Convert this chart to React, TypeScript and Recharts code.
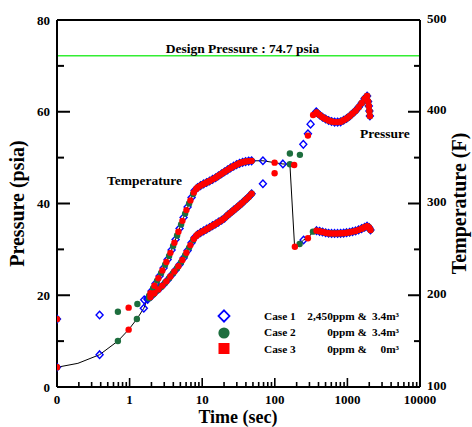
import React from "react";
import { ComposedChart, XAxis, YAxis, Scatter, Line, ReferenceLine } from "recharts";

type Pt = [number, number];

// log time axis: t = 0 is drawn at 0.1 and labelled "0"
const X_MAJOR = [0.1, 1, 10, 100, 1000, 10000];
const X_LABELS = ["0", "1", "10", "100", "1000", "10000"];
const X_MINOR_STEPS = [2, 3, 4, 5, 6, 7, 8, 9];
const P_TICKS = [0, 10, 20, 30, 40, 50, 60, 70, 80];
const P_LABELED = [0, 20, 40, 60, 80];
const T_TICKS = [100, 150, 200, 250, 300, 350, 400, 450, 500];
const T_LABELED = [100, 200, 300, 400, 500];
const DESIGN_PRESSURE = 72.2;

const CASE_NAMES = ["Case 1", "Case 2", "Case 3"];
const CASE_DESC: [string, string][] = [
  ["2,450ppm &", "3.4m³"],
  ["0ppm &", "3.4m³"],
  ["0ppm &", "0m³"],
];

// temperature (F) vs time (sec)
const CASE1_TEMP: Pt[] = [
  [0, 121.5], [0.386, 135.2], [1.57, 185.8],
  [1.77, 196.5], [2.01, 204.6], [2.28, 212.8], [2.59, 221.0], [2.94, 229.7], [3.34, 239.0],
  [3.79, 249.3], [4.3, 260.8], [4.88, 272.8], [5.54, 284.7], [6.29, 296.2], [7.14, 306.5], [7.86, 314.2],
  [68.6, 346.6], [129.3, 343.1],
  [249, 260.2],
];
const CASE2_TEMP: Pt[] = [
  [0, 121.5], [0.69, 150.1], [1.26, 174.1],
  [1.856, 199.5], [2.107, 207.7], [2.392, 215.9], [2.716, 224.3], [3.083, 233.2], [3.5, 242.9],
  [3.974, 253.6], [4.511, 265.2], [5.121, 277.2], [5.815, 289.0], [6.601, 300.1], [7.494, 310.4],
  [161.4, 342.7],
  [219.6, 255.9], [335, 269.3],
];
const CASE3_TEMP: Pt[] = [
  [0, 121.5], [0.97, 162.5],
  [1.934, 202.2], [2.196, 210.4], [2.493, 218.5], [2.83, 227.1], [3.213, 236.2], [3.648, 246.2],
  [4.141, 257.3], [4.701, 269.2], [5.338, 281.1], [6.059, 292.8], [6.879, 303.4], [7.661, 312.1], [8.27, 315.9],
  [99.4, 344.5], [185, 342.0],
  [189, 252.9], [286, 262.1],
];
// dense parts where all three cases overlap
const TEMP_BAND_RISE: Pt[] = [
  [8.65, 317.4], [9.5, 319.5], [10.45, 321.3], [11.5, 322.9], [12.65, 324.5], [13.9, 326.3],
  [15.3, 328.1], [16.8, 330.2], [18.5, 332.4], [20.35, 334.6], [22.4, 336.7], [24.6, 338.8],
  [27.1, 340.7], [29.8, 342.4], [32.75, 343.8], [36, 344.9], [39.6, 345.7], [43.6, 346.2], [47.9, 346.5],
];
const TEMP_BAND_LATE: Pt[] = [
  [376, 270.4], [414, 269.7], [455, 268.9], [501, 268.1], [551, 267.6], [606, 267.4], [666, 267.4],
  [733, 267.4], [806, 267.5], [887, 267.7], [975, 268.2], [1072, 268.7], [1179, 269.4], [1297, 270.1],
  [1427, 271.3], [1569, 272.6], [1726, 274.1], [1868, 275.3], [1990, 273.8], [2080, 271.1],
];
// thin black line through the temperature points
const TEMP_TRACE: Pt[] = [
  [0, 121.5], [0.194, 125.8], [0.386, 135.2], [0.69, 150.1], [0.97, 162.5], [1.26, 174.1], [1.57, 185.8],
  [1.77, 196.5], [2.59, 221.0], [3.79, 249.3], [5.54, 284.7], [7.14, 306.5], [7.86, 314.2],
  [9.5, 319.5], [13.9, 326.3], [20.35, 334.6], [29.8, 342.4], [39.6, 345.7], [47.9, 346.5],
  [68.6, 346.6], [99.4, 344.5], [129.3, 343.1], [161.4, 342.7], [187.4, 252.9], [219.6, 255.9],
  [249, 260.2], [286, 262.1], [335, 269.3], [376, 270.4], [666, 267.4], [1179, 269.4], [1868, 275.3], [2080, 271.1],
];

// pressure (psia) vs time (sec)
const CASE1_PRES: Pt[] = [
  [0, 14.8], [0.386, 15.7], [1.59, 19.0],
  [1.77, 19.07], [2.01, 19.84], [2.28, 20.71], [2.59, 21.51], [2.94, 22.34], [3.34, 23.32],
  [3.79, 24.41], [4.3, 25.5], [4.88, 26.7], [5.54, 28.12], [6.29, 29.73], [7.14, 31.46], [7.86, 32.59],
  [68.6, 44.3], [247, 52.9], [286, 55.2], [311, 57.3], [372, 60.0],
];
const CASE2_PRES: Pt[] = [
  [0, 14.8], [0.69, 16.4], [1.28, 18.1],
  [1.856, 19.36], [2.107, 20.16], [2.392, 21.01], [2.716, 21.82], [3.083, 22.71], [3.5, 23.74],
  [3.974, 24.83], [4.511, 25.96], [5.121, 27.23], [5.815, 28.73], [6.601, 30.39], [7.494, 32.02],
  [161.4, 50.9], [221.7, 50.6],
];
const CASE3_PRES: Pt[] = [
  [0, 14.8], [0.97, 17.3],
  [1.934, 19.61], [2.196, 20.45], [2.493, 21.28], [2.83, 22.1], [3.213, 23.03], [3.648, 24.09],
  [4.141, 25.18], [4.701, 26.34], [5.338, 27.69], [6.059, 29.25], [6.879, 30.93], [7.661, 32.28], [8.27, 32.94],
  [99.4, 46.6], [286, 54.8], [337, 59.3],
];
const PRES_BAND_RISE: Pt[] = [
  [8.65, 33.24], [9.5, 33.66], [10.45, 34.03], [11.5, 34.4], [12.65, 34.77], [13.9, 35.16],
  [15.3, 35.53], [16.8, 35.95], [18.5, 36.34], [20.35, 36.82], [22.4, 37.45], [24.6, 37.99],
  [27.1, 38.54], [29.8, 39.08], [32.75, 39.63], [36, 40.2], [39.6, 40.81], [43.6, 41.42], [47.9, 42.11],
];
const PRES_BAND_LATE: Pt[] = [
  [376, 59.84], [414, 59.29], [455, 58.81], [501, 58.42], [551, 58.09], [606, 57.87], [666, 57.74],
  [733, 57.74], [806, 57.81], [887, 58.14], [975, 58.53], [1072, 59.01], [1179, 59.62], [1297, 60.23],
  [1427, 60.97], [1569, 61.84], [1726, 62.87], [1868, 63.43], [1928, 62.23], [1972, 61.25], [2009, 60.16], [2041, 59.07],
];

const BLUE = "#0000ff";
const GREEN = "#1d6e3e";
const RED = "#ff0000";
const FONT = '"Liberation Serif", "Times New Roman", serif';

const W = 472;
const H = 427;

const rows = (...parts: Pt[][]) =>
  parts.flat().map(([t, v]) => ({ t: t === 0 ? 0.1 : t, v }));

const X_TICKS = [
  ...X_MAJOR.slice(0, -1).flatMap((d) => [d, ...X_MINOR_STEPS.map((s) => d * s)]),
  X_MAJOR[X_MAJOR.length - 1],
];

const majorIndex = (v: number) => X_MAJOR.findIndex((m) => Math.abs(v - m) / m < 1e-6);

const tickText = { fontFamily: FONT, fontWeight: "bold" as const, fontSize: 13, fill: "#000" };

const XTick = (props: any) => {
  const { x, y, payload } = props;
  const i = majorIndex(payload.value);
  return (
    <g>
      <line x1={x} x2={x} y1={y} y2={y - (i >= 0 ? 9 : 5)} stroke="#000" strokeWidth={1.6} />
      {i >= 0 && (
        <text x={x} y={y + 17} textAnchor="middle" style={tickText}>
          {X_LABELS[i]}
        </text>
      )}
    </g>
  );
};

const PTick = (props: any) => {
  const { x, y, payload } = props;
  const major = P_LABELED.includes(payload.value);
  return (
    <g>
      <line x1={x} x2={x + (major ? 13 : 7)} y1={y} y2={y} stroke="#000" strokeWidth={2} />
      {major && (
        <text x={x - 7} y={y + 4.5} textAnchor="end" style={tickText}>
          {payload.value}
        </text>
      )}
    </g>
  );
};

const TTick = (props: any) => {
  const { x, y, payload } = props;
  const major = T_LABELED.includes(payload.value);
  return (
    <g>
      <line x1={x} x2={x - (major ? 12 : 6)} y1={y} y2={y} stroke="#000" strokeWidth={2} />
      {major && (
        <text x={x + 7} y={y + 2.5} textAnchor="start" style={tickText}>
          {payload.value}
        </text>
      )}
    </g>
  );
};

const titleStyle = { fontFamily: FONT, fontWeight: "bold" as const, fontSize: 20, fill: "#000" };

const VTitle = (text: string, x: number) => () => {
  const y = 203.5;
  return (
    <text x={x} y={y} transform={`rotate(-90 ${x} ${y})`} textAnchor="middle" style={titleStyle}>
      {text}
    </text>
  );
};

const BottomTitle = () => (
  <text x={238} y={423} textAnchor="middle" style={{ ...titleStyle, fontSize: 18 }}>
    Time (sec)
  </text>
);

const Diamond = (p: any) => (
  <path
    d={`M${p.cx},${p.cy - 3.8}L${p.cx + 3.5},${p.cy}L${p.cx},${p.cy + 3.8}L${p.cx - 3.5},${p.cy}Z`}
    fill="none"
    stroke={BLUE}
    strokeWidth={1.4}
  />
);
const GreenDot = (p: any) => <circle cx={p.cx} cy={p.cy} r={3.2} fill={GREEN} />;
const RedDot = (p: any) => <circle cx={p.cx} cy={p.cy} r={3.2} fill={RED} />;

export default function App() {
  const c1t = rows(CASE1_TEMP, TEMP_BAND_RISE, TEMP_BAND_LATE);
  const c2t = rows(CASE2_TEMP, TEMP_BAND_RISE, TEMP_BAND_LATE);
  const c3t = rows(CASE3_TEMP, TEMP_BAND_RISE, TEMP_BAND_LATE);
  const c1p = rows(CASE1_PRES, PRES_BAND_RISE, PRES_BAND_LATE);
  const c2p = rows(CASE2_PRES, PRES_BAND_RISE, PRES_BAND_LATE);
  const c3p = rows(CASE3_PRES, PRES_BAND_RISE, PRES_BAND_LATE);
  const trace = rows(TEMP_TRACE);

  const txt = { fontFamily: FONT, fontWeight: "bold" as const, fill: "#000" };

  return (
    <div style={{ position: "absolute", left: 0, top: 0, width: W, height: H, background: "#fff" }}>
      <ComposedChart width={W} height={H} margin={{ top: 20, right: 0, bottom: 0, left: 0 }}>
        <XAxis
          type="number"
          dataKey="t"
          scale="log"
          domain={[0.1, 10000]}
          allowDataOverflow
          ticks={X_TICKS}
          interval={0}
          tickSize={0}
          tickMargin={0}
          tickLine={false}
          tick={(p: any) => <XTick {...p} />}
          axisLine={{ stroke: "#000", strokeWidth: 2 }}
          height={40}
          label={BottomTitle}
        />
        <YAxis
          yAxisId="P"
          type="number"
          dataKey="v"
          domain={[0, 80]}
          ticks={P_TICKS}
          interval={0}
          width={57}
          tickSize={0}
          tickMargin={0}
          tickLine={false}
          tick={(p: any) => <PTick {...p} />}
          axisLine={{ stroke: "#000", strokeWidth: 2 }}
          label={VTitle("Pressure (psia)", 23.5)}
        />
        <YAxis
          yAxisId="T"
          orientation="right"
          type="number"
          dataKey="v"
          domain={[100, 500]}
          ticks={T_TICKS}
          interval={0}
          width={52}
          tickSize={0}
          tickMargin={0}
          tickLine={false}
          tick={(p: any) => <TTick {...p} />}
          axisLine={{ stroke: "#000", strokeWidth: 2 }}
          label={VTitle("Temperature (F)", 466)}
        />
        <ReferenceLine yAxisId="P" y={80} stroke="#000" strokeWidth={2} />
        <ReferenceLine yAxisId="P" y={DESIGN_PRESSURE} stroke="#33ee33" strokeWidth={1.6} />
        <Line
          yAxisId="T"
          data={trace}
          dataKey="v"
          type="linear"
          stroke="#000"
          strokeWidth={1}
          dot={false}
          activeDot={false}
          isAnimationActive={false}
        />
        <Scatter yAxisId="T" data={c1t} shape={Diamond} isAnimationActive={false} />
        <Scatter yAxisId="P" data={c1p} shape={Diamond} isAnimationActive={false} />
        <Scatter yAxisId="T" data={c2t} shape={GreenDot} isAnimationActive={false} />
        <Scatter yAxisId="P" data={c2p} shape={GreenDot} isAnimationActive={false} />
        <Scatter yAxisId="T" data={c3t} shape={RedDot} isAnimationActive={false} />
        <Scatter yAxisId="P" data={c3p} shape={RedDot} isAnimationActive={false} />
      </ComposedChart>
      <svg width={W} height={H} style={{ position: "absolute", left: 0, top: 0, pointerEvents: "none" }}>
        <text x={242.5} y={52.5} textAnchor="middle" fontSize={13.5} {...txt}>
          Design Pressure : 74.7 psia
        </text>
        <text x={107} y={184.5} fontSize={13.5} {...txt}>
          Temperature
        </text>
        <text x={360} y={137.5} fontSize={13.5} {...txt}>
          Pressure
        </text>
        {/* legend */}
        <path d="M224,310.3L229.5,316L224,321.7L218.5,316Z" fill="none" stroke={BLUE} strokeWidth={1.8} />
        <circle cx={224} cy={333} r={5.6} fill={GREEN} />
        <rect x={218.5} y={343} width={11} height={11} fill={RED} />
        {CASE_NAMES.map((name, i) => (
          <g key={name}>
            <text x={264} y={320 + i * 16.3} fontSize={11.3} {...txt}>
              {name}
            </text>
            <text x={367} y={320 + i * 16.3} textAnchor="end" fontSize={11.3} {...txt}>
              {CASE_DESC[i][0]}
            </text>
            <text x={399} y={320 + i * 16.3} textAnchor="end" fontSize={11.3} {...txt}>
              {CASE_DESC[i][1]}
            </text>
          </g>
        ))}
      </svg>
    </div>
  );
}
